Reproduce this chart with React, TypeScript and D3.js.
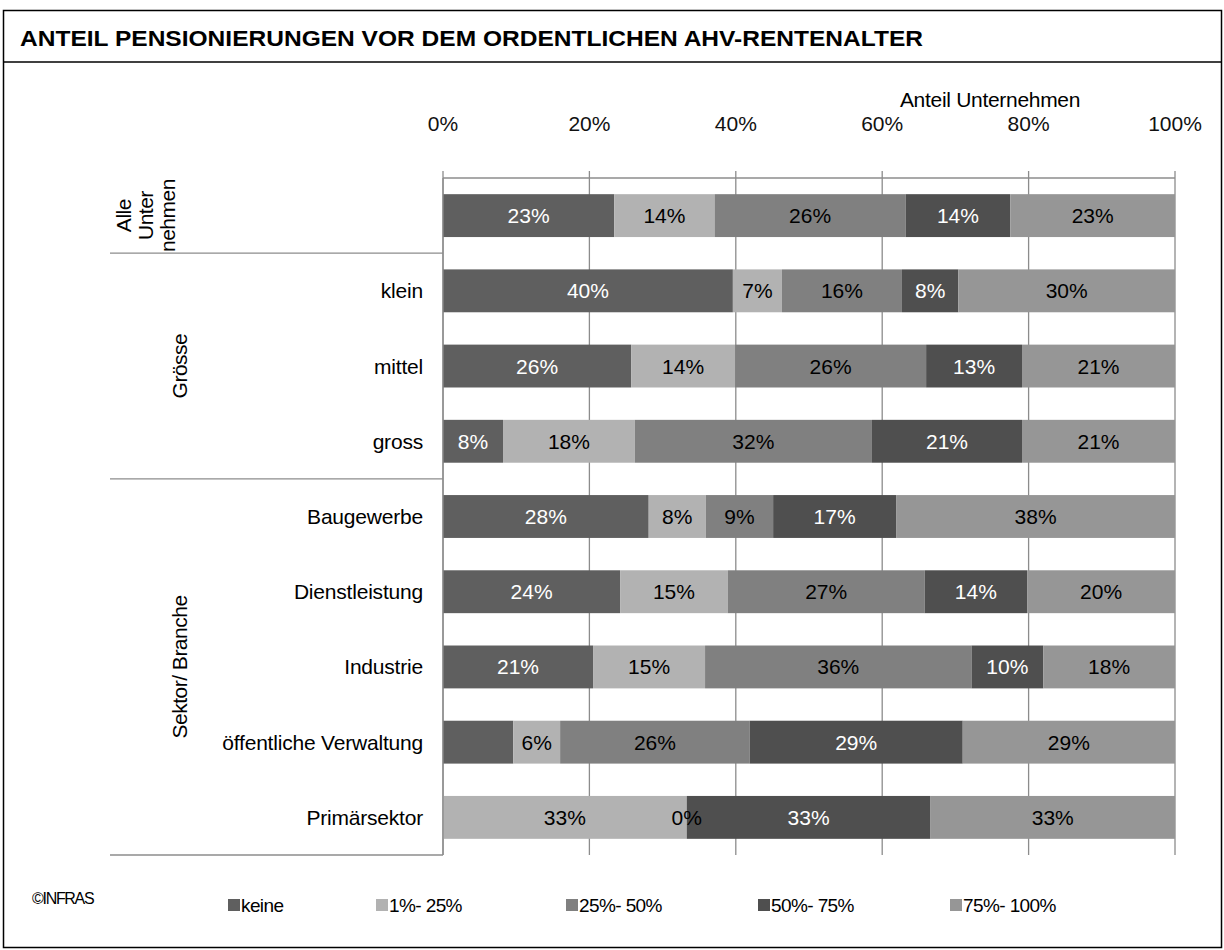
import React from "react";
import * as d3 from "d3";

const categories = ["Alle Unternehmen", "klein", "mittel", "gross", "Baugewerbe", "Dienstleistung", "Industrie", "öffentliche Verwaltung", "Primärsektor"];
const seriesNames = ["keine", "1%- 25%", "25%- 50%", "50%- 75%", "75%- 100%"];
const keine = [23.4, 39.6, 25.7, 8.2, 28.1, 24.2, 20.5, 9.6, 0];
const p1_25 = [13.7, 6.7, 14.2, 18.0, 7.8, 14.7, 15.3, 6.4, 33.3];
const p25_50 = [26.1, 16.4, 26.1, 32.4, 9.2, 26.9, 36.4, 25.9, 0];
const p50_75 = [14.3, 7.7, 13.1, 20.5, 16.8, 14.0, 9.8, 29.1, 33.3];
const p75_100 = [22.5, 29.6, 20.9, 20.9, 38.1, 20.2, 18.0, 29.0, 33.4];
const hiddenLabels = ["öffentliche Verwaltung|keine", "Primärsektor|keine"];
const xTicks = [0, 20, 40, 60, 80, 100];
const groups = [
  { lines: ["Alle", "Unter", "nehmen"], from: 0, to: 0 },
  { lines: ["Grösse"], from: 1, to: 3 },
  { lines: ["Sektor/ Branche"], from: 4, to: 8 },
];

const colors = ["#5f5f5f", "#b2b2b2", "#808080", "#4f4f4f", "#969696"];
const labelColors = ["#ffffff", "#000000", "#000000", "#ffffff", "#000000"];
const FONT = "'Liberation Sans', Arial, sans-serif";

export default function App() {
  const W = 1224, H = 950;
  const x = d3.scaleLinear().domain([0, 100]).range([443, 1175]);
  const y = d3.scaleBand<string>().domain(categories).range([178, 855]).paddingInner(0.43).paddingOuter(0.215);
  const seriesData = [keine, p1_25, p25_50, p50_75, p75_100];
  const rows = categories.map((c, i) => {
    const o: any = { cat: c };
    seriesNames.forEach((s, j) => (o[s] = seriesData[j][i]));
    return o;
  });
  const stacked = d3.stack<any>().keys(seriesNames)(rows);
  const step = y.step();
  const bandTop = (i: number) => 178 + i * step;

  return (
    <svg width={W} height={H} style={{ position: "absolute", left: 0, top: 0 }} fontFamily={FONT}>
      <rect x={0} y={0} width={W} height={H} fill="#fff" />
      <rect x={3.5} y={10.5} width={1218} height={937} fill="none" stroke="#000" strokeWidth={1.5} />
      <line x1={3} x2={1222} y1={62} y2={62} stroke="#000" strokeWidth={1.5} />
      <text x={20} y={46} fontSize={22.5} fontWeight="bold" textLength={903} lengthAdjust="spacingAndGlyphs">
        ANTEIL PENSIONIERUNGEN VOR DEM ORDENTLICHEN AHV-RENTENALTER
      </text>

      {/* axis title */}
      <text x={990} y={107} fontSize={21} textAnchor="middle" letterSpacing={-0.3}>Anteil Unternehmen</text>

      {/* gridlines */}
      {xTicks.map((t) => (
        <g key={t}>
          <line x1={x(t)} x2={x(t)} y1={171} y2={855} stroke="#8c8c8c" strokeWidth={1.3} />
          <text x={x(t)} y={131} fontSize={21} textAnchor="middle" fill="#111">{t}%</text>
        </g>
      ))}
      <line x1={x(0)} x2={x(100)} y1={178} y2={178} stroke="#8c8c8c" strokeWidth={1.3} />

      {/* bars */}
      {stacked.map((layer, j) =>
        layer.map((d, i) => {
          const w = x(d[1]) - x(d[0]);
          return w > 0 ? (
            <rect key={j + "-" + i} x={x(d[0])} y={y(categories[i])!} width={w} height={y.bandwidth()} fill={colors[j]} />
          ) : null;
        })
      )}
      {/* bar labels */}
      {stacked.map((layer, j) =>
        layer.map((d, i) => {
          const cat = categories[i];
          if (hiddenLabels.includes(cat + "|" + seriesNames[j])) return null;
          const v = seriesData[j][i];
          return (
            <text
              key={"l" + j + "-" + i}
              x={(x(d[0]) + x(d[1])) / 2}
              y={y(cat)! + y.bandwidth() / 2 + 7.5}
              fontSize={21}
              textAnchor="middle"
              fill={labelColors[j]}
            >
              {Math.round(v)}%
            </text>
          );
        })
      )}

      {/* y axis */}
      <line x1={443} x2={443} y1={178} y2={855} stroke="#8c8c8c" strokeWidth={1.3} />
      {categories.slice(1).map((c) => (
        <text key={c} x={423} y={y(c)! + y.bandwidth() / 2 + 7.5} fontSize={21} textAnchor="end" letterSpacing={-0.2}>
          {c}
        </text>
      ))}
      {/* group separators */}
      {[1, 4, 9].map((i) => (
        <line key={i} x1={110} x2={443} y1={bandTop(i)} y2={bandTop(i)} stroke="#8c8c8c" strokeWidth={1.3} />
      ))}
      {groups.map((g, gi) => {
        const cy = (bandTop(g.from) + bandTop(g.to + 1)) / 2;
        return (
          <g key={gi}>
            {g.lines.map((l, li) => (
              <text
                key={li}
                transform={`translate(${(g.lines.length > 1 ? 131 : 187) + li * 22},${cy}) rotate(-90)`}
                fontSize={21}
                textAnchor="middle"
                letterSpacing={-0.5}
              >
                {l}
              </text>
            ))}
          </g>
        );
      })}

      {/* legend */}
      <text x={32} y={904} fontSize={16} letterSpacing={-1.3}>©INFRAS</text>
      {seriesNames.map((s, j) => {
        const lx = [228, 376, 566, 758, 950][j];
        return (
          <g key={s}>
            <rect x={lx} y={899} width={12} height={12} fill={colors[j]} />
            <text x={lx + 13} y={912} fontSize={19} letterSpacing={-0.6}>{s}</text>
          </g>
        );
      })}
    </svg>
  );
}
